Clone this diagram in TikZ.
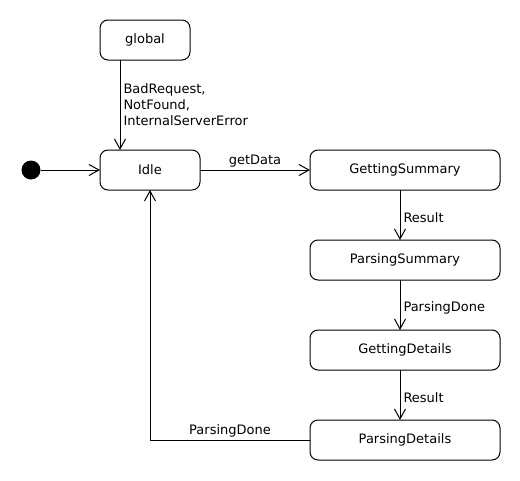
\documentclass[tikz,border=0pt]{standalone}
\usepackage{fontspec}
\setmainfont{DejaVu Sans}
\usetikzlibrary{arrows.meta, positioning}

\begin{document}
\begin{tikzpicture}[x=1pt, y=-1pt]
    % --- Style Definitions ---
    \tikzset{
        state style/.style={
            draw=black,
            line width=1pt,
            rounded corners=8pt,
            minimum height=40pt,
            inner sep=0pt,
            outer sep=0pt,
            font=\fontsize{13}{16}\selectfont
        },
        initial style/.style={
            circle,
            fill=black,
            minimum size=19pt,
            inner sep=0pt
        },
        label text/.style={
            font=\fontsize{13}{16}\selectfont,
            color=black
        },
        transition arrow/.style={
            -{Straight Barb[length=10pt, width=11pt, line width=1pt]},
            line width=1pt,
            black
        }
    }

    \useasboundingbox (0,0) rectangle (520,480);

    % --- 1. States ---
    \node[state style, minimum width=90pt] (global) at (145,40) {global};
    \node[state style, minimum width=100pt] (idle) at (150,170) {Idle};
    \node[initial style] (init) at (31,170) {};

    \node[state style, minimum width=190pt] (gsummary) at (405,170) {GettingSummary};
    \node[state style, minimum width=190pt] (psummary) at (405,260) {ParsingSummary};
    \node[state style, minimum width=190pt] (gdetails) at (405,350) {GettingDetails};
    \node[state style, minimum width=190pt] (pdetails) at (405,440) {ParsingDetails};

    % --- 2. Transitions ---
    \draw[transition arrow] (init) -- (idle.west);

    \draw[transition arrow] ([xshift=20pt]global.south west) -- ([xshift=20pt]idle.north west)
        node[label text, midway, right, align=left, inner sep=3pt]
        {BadRequest,\\NotFound,\\InternalServerError};

    \draw[transition arrow] (idle.east) -- (gsummary.west)
        node[label text, midway, above, inner sep=2pt] {getData};

    \draw[transition arrow] ([xshift=-5pt]gsummary.south) -- ([xshift=-5pt]psummary.north)
        node[label text, midway, right, yshift=-3pt, inner sep=3pt] {Result};

    \draw[transition arrow] ([xshift=-5pt]psummary.south) -- ([xshift=-5pt]gdetails.north)
        node[label text, midway, right, yshift=-3pt, inner sep=3pt] {ParsingDone};

    \draw[transition arrow] ([xshift=-5pt]gdetails.south) -- ([xshift=-5pt]pdetails.north)
        node[label text, midway, right, yshift=-3pt, inner sep=3pt] {Result};

    % Back to Idle
    \draw[transition arrow] (pdetails.west) -| (idle.south)
        node[label text, pos=0.25, above, inner sep=2pt] {ParsingDone};

\end{tikzpicture}
\end{document}
